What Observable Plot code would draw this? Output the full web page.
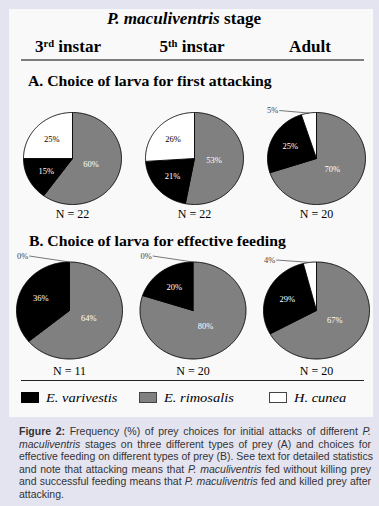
<!DOCTYPE html>
<html><head><meta charset="utf-8">
<script src="https://cdn.jsdelivr.net/npm/d3@7"></script>
<script src="https://cdn.jsdelivr.net/npm/@observablehq/plot@0.6"></script>
<style>
html,body{margin:0;padding:0;}
body{background:#e4e4f0;width:379px;height:506px;position:relative;overflow:hidden;font-family:"Liberation Serif","Times New Roman",serif;color:#000;}
#panel{position:absolute;left:9px;top:9px;width:364px;height:408px;background:#f9f9f9;}
.t{position:absolute;white-space:nowrap;line-height:1;transform-origin:left center;transform:scaleX(1.07);}
.c{transform-origin:center center;transform:translateX(-50%) scaleX(1.07);}
.sup{font-size:0.62em;position:relative;top:-0.42em;}
.rule{position:absolute;}
.sw{position:absolute;box-sizing:border-box;width:18px;height:11px;}
.row{position:absolute;left:0;top:0;}
#cap{position:absolute;left:19px;top:425px;width:352px;font-family:"Liberation Sans",Arial,sans-serif;font-size:10.5px;line-height:12.5px;color:#333;}
#cap div{text-align:justify;text-align-last:justify;white-space:nowrap;}
#cap div.last{text-align-last:left;}
</style></head>
<body>
<div id="panel"></div>
<div class="t c" style="left:184px;top:10.6px;font-size:16px;font-weight:bold;"><i>P. maculiventris</i> stage</div>
<div id="heads"></div>
<div class="rule" style="left:21px;top:59px;width:343px;height:2px;background:#7d7d7d;"></div>
<div class="t" style="left:28px;top:73.7px;font-size:14.7px;font-weight:bold;">A. Choice of larva for first attacking</div>
<div class="t" style="left:29px;top:233.7px;font-size:14.7px;font-weight:bold;">B. Choice of larva for effective feeding</div>
<div id="rowA" class="row"></div>
<div id="rowB" class="row"></div>
<div class="rule" style="left:21px;top:379.5px;width:343px;height:1.5px;background:#222;"></div>
<div id="legend"></div>
<div id="cap">
<div><b>Figure 2:</b> Frequency (%) of prey choices for initial attacks of different <i>P.</i></div>
<div><i>maculiventris</i> stages on three different types of prey (A) and choices for</div>
<div>effective feeding on different types of prey (B). See text for detailed statistics</div>
<div>and note that attacking means that <i>P. maculiventris</i> fed without killing prey</div>
<div>and successful feeding means that <i>P. maculiventris</i> fed and killed prey after</div>
<div class="last">attacking.</div>
</div>
<script>
// ---- data ----
const stages = ["3rd instar", "5th instar", "Adult"];
const stageLabels = ["3<span class='sup'>rd</span> instar", "5<span class='sup'>th</span> instar", "Adult"];
const prey = ["E. varivestis", "E. rimosalis", "H. cunea"];
const preyColors = ["#000000", "#808080", "#ffffff"];
const sliceOrder = ["E. rimosalis", "E. varivestis", "H. cunea"]; // clockwise from 12 o'clock
const attackVarivestis = [15, 21, 25];
const attackRimosalis = [60, 53, 70];
const attackCunea = [25, 26, 5];
const attackN = [22, 22, 20];
const feedVarivestis = [36, 20, 29];
const feedRimosalis = [64, 80, 67];
const feedCunea = [0, 0, 4];
const feedN = [11, 20, 20];

// ---- headers ----
const headCenters = [68, 192, 310];
document.getElementById("heads").innerHTML = stageLabels.map((s, i) =>
  `<div class="t c" style="left:${headCenters[i]}px;top:38.6px;font-size:16px;font-weight:bold;">${s}</div>`).join("");

// ---- legend ----
const legX = [21, 139, 269];
document.getElementById("legend").innerHTML = prey.map((p, i) =>
  `<div class="sw" style="left:${legX[i]}px;top:392px;background:${preyColors[i]};border:1px solid ${i === 0 ? "#000" : "#444"};"></div>` +
  `<div class="t" style="left:${legX[i] + 25}px;top:390.7px;font-size:13.5px;font-style:italic;">${p}</div>`).join("");

// ---- pies ----
function pieRow(series, ns, L) {
  const kx = L.rx / L.step;
  const slices = [], labels = [], smalls = [];
  stages.forEach((stage, i) => {
    let cum = 0;
    sliceOrder.forEach(p => {
      const v = series[p][i];
      const a0 = cum / 100 * 2 * Math.PI, a1 = (cum + v) / 100 * 2 * Math.PI;
      cum += v;
      const id = stage + "|" + p;
      if (v > 0) {
        slices.push({id, prey: p, x: i, y: 0});
        const n = Math.max(2, Math.ceil((a1 - a0) / (Math.PI / 180)));
        for (let k = 0; k <= n; k++) {
          const a = a0 + (a1 - a0) * k / n;
          slices.push({id, prey: p, x: i + kx * Math.sin(a), y: Math.cos(a)});
        }
        slices.push({id, prey: p, x: i, y: 0});
      }
      const am = (a0 + a1) / 2;
      if (v >= 10) {
        const f = v >= 50 ? 0.4 : 0.6;
        labels.push({prey: p, x: i + f * kx * Math.sin(am), y: f * Math.cos(am), text: v + "%"});
      } else {
        smalls.push({x: i - 0.76 * kx, y: 1 + (v === 0 ? 6 : 2) / L.ry, x2: i + kx * Math.sin(am), y2: Math.cos(am), text: v + "%"});
      }
    });
  });
  const nData = ns.map((n, i) => ({x: i, y: -1, text: "N = " + n}));
  return Plot.plot({
    width: 379, height: L.h, margin: 0,
    x: {domain: [-0.5, 2.5], range: [L.cx0 - L.step / 2, L.cx0 + 2.5 * L.step], axis: null},
    y: {domain: [-1, 1], range: [L.cy + L.ry, L.cy - L.ry], axis: null},
    color: {domain: prey, range: preyColors},
    style: {background: "transparent", fontFamily: "'Liberation Serif','Times New Roman',serif", overflow: "visible"},
    marks: [
      Plot.line(slices, {x: "x", y: "y", z: "id", fill: "prey", stroke: "#000", strokeWidth: 0.9, strokeLinejoin: "round"}),
      Plot.text(labels.filter(d => d.prey !== "H. cunea"), {x: "x", y: "y", text: "text", fill: "#fff", fontSize: 8.5}),
      Plot.text(labels.filter(d => d.prey === "H. cunea"), {x: "x", y: "y", text: "text", fill: "#000", fontSize: 8.5}),
      Plot.link(smalls, {x1: "x", y1: "y", x2: "x2", y2: "y2", stroke: "#555", strokeWidth: 0.8}),
      Plot.text(smalls, {x: "x", y: "y", text: "text", textAnchor: "end", dx: -1, fill: "#444", fontSize: 8.5}),
      Plot.text(nData, {x: "x", y: "y", text: "text", dy: L.ndy, fontSize: 12, fill: "#000"})
    ]
  });
}

const rowA = pieRow({"E. varivestis": attackVarivestis, "E. rimosalis": attackRimosalis, "H. cunea": attackCunea}, attackN,
  {h: 130, cx0: 72, step: 122, cy: 63, rx: 49, ry: 46, ndy: 10});
const elA = document.getElementById("rowA");
elA.style.top = "95px";
elA.appendChild(rowA);

const rowB = pieRow({"E. varivestis": feedVarivestis, "E. rimosalis": feedRimosalis, "H. cunea": feedCunea}, feedN,
  {h: 150, cx0: 69, step: 123.5, cy: 82, rx: 53, ry: 48.5, ndy: 12});
const elB = document.getElementById("rowB");
elB.style.top = "228px";
elB.appendChild(rowB);
</script>
</body></html>
